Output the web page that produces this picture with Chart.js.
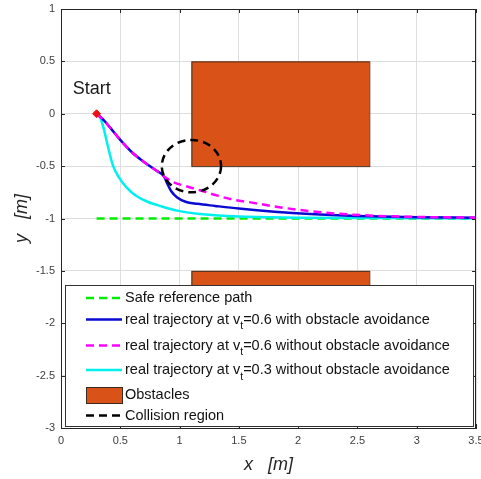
<!DOCTYPE html>
<html>
<head>
<meta charset="utf-8">
<script src="https://cdn.jsdelivr.net/npm/chart.js@4.4.1/dist/chart.umd.min.js"></script>
<style>
  html, body { margin: 0; padding: 0; background: #fff; }
  #wrap { width: 481px; height: 479px; }
</style>
</head>
<body>
<div id="wrap"><canvas id="trajChart" width="481" height="479"></canvas></div>
<script>
// ---- values ----
const refX = [0.3, 3.5];
const refY = [-1, -1];

// v_t = 0.6 with obstacle avoidance
const avoidX = [0.30, 0.36, 0.42, 0.50, 0.60, 0.70, 0.80, 0.87, 0.89, 0.93, 0.98, 1.05, 1.15, 1.30, 1.50, 1.80, 2.10, 2.50, 3.00, 3.50];
const avoidY = [0.00, -0.06, -0.14, -0.25, -0.37, -0.46, -0.54, -0.60, -0.65, -0.74, -0.80, -0.84, -0.86, -0.88, -0.905, -0.935, -0.957, -0.975, -0.988, -0.993];

// v_t = 0.6 without obstacle avoidance
const fastX = [0.30, 0.36, 0.42, 0.50, 0.60, 0.70, 0.80, 0.87, 0.95, 1.05, 1.17, 1.30, 1.45, 1.60, 1.80, 2.07, 2.35, 2.63, 3.00, 3.50];
const fastY = [0.00, -0.06, -0.14, -0.25, -0.37, -0.46, -0.54, -0.60, -0.655, -0.69, -0.73, -0.775, -0.82, -0.846, -0.885, -0.926, -0.955, -0.973, -0.985, -0.992];

// v_t = 0.3 without obstacle avoidance
const slowX = [0.30, 0.33, 0.36, 0.385, 0.41, 0.44, 0.49, 0.55, 0.63, 0.73, 0.85, 0.98, 1.15, 1.50, 2.00, 2.60, 3.50];
const slowY = [0.00, -0.035, -0.14, -0.26, -0.38, -0.50, -0.61, -0.70, -0.78, -0.84, -0.885, -0.925, -0.955, -0.982, -0.992, -0.996, -1.0];

const startX = [0.3];
const startY = [0];

// obstacles as [xmin, xmax] / [ymin, ymax]
const obstacleX = [[1.1, 2.6], [1.1, 2.6]];
const obstacleY = [[-0.5, 0.5], [-2.5, -1.5]];

// collision region circle
const collisionCenter = [1.1, -0.5];
const collisionRadius = 0.25;

const xTicks = [0, 0.5, 1, 1.5, 2, 2.5, 3, 3.5];
const yTicks = [-3, -2.5, -2, -1.5, -1, -0.5, 0, 0.5, 1];

const legendLabels = [
  'Safe reference path',
  'real trajectory at v_t=0.6 with obstacle avoidance',
  'real trajectory at v_t=0.6 without obstacle avoidance',
  'real trajectory at v_t=0.3 without obstacle avoidance',
  'Obstacles',
  'Collision region'
];

const FONT = "'Liberation Sans', Arial, Helvetica, sans-serif";
const OBST_COLOR = '#d95319';
const AXIS_COLOR = '#262626';

function toPts(xs, ys) {
  return xs.map((x, i) => ({ x: x, y: ys[i] }));
}

/* ================= EXTRA DRAWING ================= */
const figurePlugin = {
  id: 'figureExtras',
  beforeDatasetsDraw(chart) {
    const { ctx, chartArea, scales: { x, y } } = chart;
    ctx.save();
    ctx.beginPath();
    ctx.rect(chartArea.left, chartArea.top, chartArea.width, chartArea.height);
    ctx.clip();
    obstacleX.forEach((ox, i) => {
      const oy = obstacleY[i];
      const x0 = x.getPixelForValue(ox[0]), x1 = x.getPixelForValue(ox[1]);
      const y0 = y.getPixelForValue(oy[1]), y1 = y.getPixelForValue(oy[0]);
      ctx.fillStyle = OBST_COLOR;
      ctx.fillRect(x0, y0, x1 - x0, y1 - y0);
      ctx.strokeStyle = '#4a3020';
      ctx.lineWidth = 1;
      ctx.strokeRect(x0 + 0.5, y0 + 0.5, x1 - x0, y1 - y0);
    });
    ctx.restore();
  },
  afterDatasetsDraw(chart) {
    const { ctx, scales: { x, y } } = chart;
    ctx.save();
    // collision circle
    const cx = x.getPixelForValue(collisionCenter[0]);
    const cy = y.getPixelForValue(collisionCenter[1]);
    const rx = Math.abs(x.getPixelForValue(collisionCenter[0] + collisionRadius) - cx);
    const ry = Math.abs(y.getPixelForValue(collisionCenter[1] + collisionRadius) - cy);
    ctx.beginPath();
    ctx.ellipse(cx, cy, rx, ry, 0, 0, Math.PI * 2);
    ctx.setLineDash([8, 5]);
    ctx.lineWidth = 2.5;
    ctx.strokeStyle = '#000';
    ctx.stroke();
    ctx.setLineDash([]);
    // start label
    ctx.font = '18px ' + FONT;
    ctx.fillStyle = '#1a1a1a';
    ctx.textAlign = 'left';
    ctx.textBaseline = 'middle';
    ctx.fillText('Start', x.getPixelForValue(0.1), y.getPixelForValue(0.24));
    ctx.restore();
  },
  afterDraw(chart) {
    const { ctx, chartArea: a, scales: { x, y } } = chart;
    ctx.save();
    // box and inward ticks
    ctx.strokeStyle = AXIS_COLOR;
    ctx.lineWidth = 1;
    ctx.beginPath();
    ctx.moveTo(a.left, a.top + 0.5); ctx.lineTo(a.right, a.top + 0.5);
    ctx.moveTo(a.right - 0.5, a.top); ctx.lineTo(a.right - 0.5, a.bottom);
    xTicks.forEach(v => {
      const px = Math.round(x.getPixelForValue(v)) + 0.5;
      ctx.moveTo(px, a.top); ctx.lineTo(px, a.top + 4);
      ctx.moveTo(px, a.bottom); ctx.lineTo(px, a.bottom - 4);
    });
    yTicks.forEach(v => {
      const py = Math.round(y.getPixelForValue(v)) + 0.5;
      ctx.moveTo(a.left, py); ctx.lineTo(a.left + 4, py);
      ctx.moveTo(a.right, py); ctx.lineTo(a.right - 4, py);
    });
    ctx.stroke();

    // legend box
    const lx = 65, ly = 285, lw = 408, lh = 141;
    ctx.fillStyle = '#fff';
    ctx.fillRect(lx, ly, lw, lh);
    ctx.strokeStyle = '#333';
    ctx.strokeRect(lx + 0.5, ly + 0.5, lw, lh);

    const rowsY = [298, 319.5, 345.5, 370, 395, 415.5];
    const samples = [
      { type: 'line', color: '#00ee00', dash: [8, 5] },
      { type: 'line', color: '#0a0ad2', dash: [] },
      { type: 'line', color: '#ff00ff', dash: [8, 5] },
      { type: 'line', color: '#00f0f0', dash: [] },
      { type: 'rect', color: OBST_COLOR },
      { type: 'line', color: '#000', dash: [8, 5] }
    ];
    const sx0 = 86, sx1 = 122, tx = 125;
    legendLabels.forEach((label, i) => {
      const yy = rowsY[i];
      const s = samples[i];
      if (s.type === 'rect') {
        ctx.fillStyle = s.color;
        ctx.fillRect(sx0, yy - 8, sx1 - sx0, 16);
        ctx.strokeStyle = '#3a2a20';
        ctx.lineWidth = 1;
        ctx.strokeRect(sx0 + 0.5, yy - 7.5, sx1 - sx0, 16);
      } else {
        ctx.beginPath();
        ctx.setLineDash(s.dash);
        ctx.strokeStyle = s.color;
        ctx.lineWidth = 2.5;
        ctx.moveTo(sx0, yy); ctx.lineTo(sx1, yy);
        ctx.stroke();
        ctx.setLineDash([]);
      }
      ctx.fillStyle = '#111';
      ctx.textAlign = 'left';
      ctx.textBaseline = 'middle';
      const parts = label.split('_t');
      ctx.font = '14.5px ' + FONT;
      let cx = tx;
      ctx.fillText(parts[0], cx, yy);
      if (parts.length > 1) {
        cx += ctx.measureText(parts[0]).width;
        ctx.font = '10.5px ' + FONT;
        ctx.fillText('t', cx, yy + 7);
        cx += ctx.measureText('t').width;
        ctx.font = '14.5px ' + FONT;
        ctx.fillText(parts[1], cx, yy);
      }
    });
    ctx.restore();
  }
};

/* ================= CHART ================= */
const trajCtx = document.getElementById('trajChart');

const trajChart = new Chart(trajCtx, {
  type: 'scatter',
  data: {
    datasets: [
      {
        label: legendLabels[0],
        data: toPts(refX, refY),
        showLine: true,
        borderColor: '#00ee00',
        borderDash: [8, 5],
        borderWidth: 2.5,
        pointRadius: 0,
        order: 5
      },
      {
        label: legendLabels[3],
        data: toPts(slowX, slowY),
        showLine: true,
        borderColor: '#00f0f0',
        borderWidth: 2.5,
        pointRadius: 0,
        cubicInterpolationMode: 'monotone',
        order: 4
      },
      {
        label: legendLabels[1],
        data: toPts(avoidX, avoidY),
        showLine: true,
        borderColor: '#0a0ad2',
        borderWidth: 2.5,
        pointRadius: 0,
        cubicInterpolationMode: 'monotone',
        order: 3
      },
      {
        label: legendLabels[2],
        data: toPts(fastX, fastY),
        showLine: true,
        borderColor: '#ff00ff',
        borderDash: [8, 5],
        borderWidth: 2.5,
        pointRadius: 0,
        cubicInterpolationMode: 'monotone',
        order: 2
      },
      {
        label: 'Start',
        data: toPts(startX, startY),
        pointStyle: 'rectRot',
        pointRadius: 4,
        backgroundColor: '#ee1111',
        borderColor: '#ee1111',
        order: 1
      }
    ]
  },
  options: {
    responsive: false,
    animation: false,
    devicePixelRatio: 1,
    layout: { padding: { top: 9, right: 5, left: 0, bottom: 0 } },
    plugins: {
      legend: { display: false },
      tooltip: { enabled: false }
    },
    scales: {
      x: {
        type: 'linear',
        min: 0,
        max: 3.5,
        afterBuildTicks: s => { s.ticks = xTicks.map(v => ({ value: v })); },
        afterFit: s => { s.height = 51; s.paddingLeft = 0; s.paddingRight = 0; },
        grid: { color: '#dedede', drawTicks: false },
        border: { color: AXIS_COLOR },
        ticks: {
          padding: 6,
          maxRotation: 0,
          autoSkip: false,
          color: '#404040',
          font: { family: FONT, size: 11 },
          callback: v => String(Math.round(v * 10) / 10)
        },
        title: {
          display: true,
          text: 'x   [m]',
          color: '#262626',
          font: { family: FONT, size: 18, style: 'italic' },
          padding: { top: 0, bottom: 3 }
        }
      },
      y: {
        type: 'linear',
        min: -3,
        max: 1,
        afterBuildTicks: s => { s.ticks = yTicks.map(v => ({ value: v })); },
        afterFit: s => { s.width = 61; s.paddingTop = 0; s.paddingBottom = 0; },
        grid: { color: '#dedede', drawTicks: false },
        border: { color: AXIS_COLOR },
        ticks: {
          padding: 6,
          autoSkip: false,
          color: '#404040',
          font: { family: FONT, size: 11 },
          callback: v => String(Math.round(v * 10) / 10)
        },
        title: {
          display: true,
          text: 'y   [m]',
          color: '#262626',
          font: { family: FONT, size: 18, style: 'italic' },
          padding: { top: 11, bottom: 0 }
        }
      }
    }
  },
  plugins: [figurePlugin]
});
</script>
</body>
</html>
